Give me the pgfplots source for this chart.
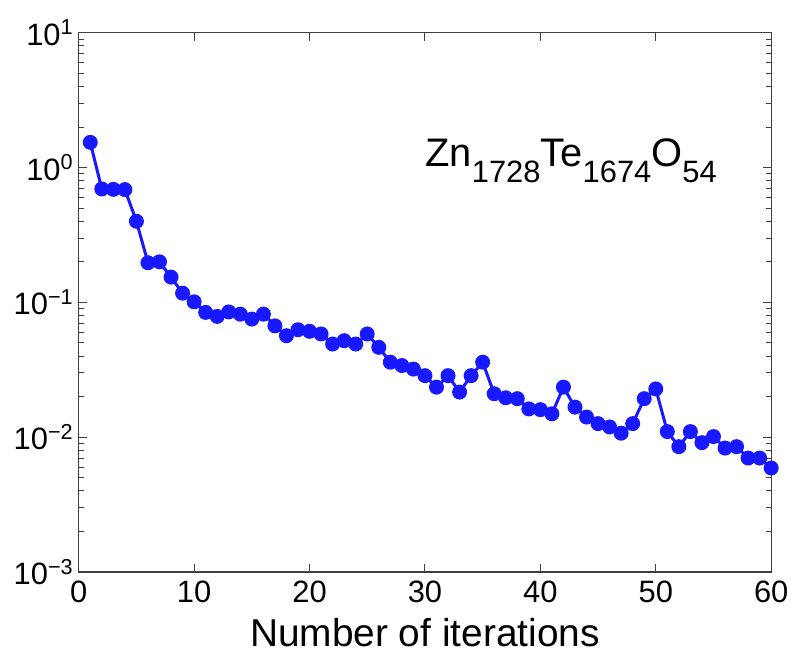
\documentclass[border=0pt]{standalone}
\usepackage{pgfplots}
\pgfplotsset{compat=1.18}
\usepackage{fontspec}
\setmainfont{Liberation Sans}

\definecolor{seriesblue}{RGB}{25,25,255}

\begin{document}
\begin{tikzpicture}
\begin{axis}[
  at={(0,0)}, anchor=south west,
  scale only axis,
  width=347.5pt, height=270.5pt,
  ymode=log,
  xmin=0, xmax=60,
  ymin=1e-3, ymax=10,
  xtick={0,10,20,30,40,50,60},
  ytick={1e-3,1e-2,1e-1,1,10},
  yticklabels={10\textsuperscript{\char"2212 3},10\textsuperscript{\char"2212 2},10\textsuperscript{\char"2212 1},10\textsuperscript{0},10\textsuperscript{1}},
  minor ytick={},
  /pgf/number format/assume math mode=true,
  tick align=inside,
  tick pos=both,
  major tick length=4pt,
  axis line style={line width=0.6pt, black!75},
  tick style={black!75, line width=0.5pt},
  tick label style={font=\fontsize{15.5}{15.5}\selectfont},
  xticklabel style={yshift=-1pt},
  yticklabel style={xshift=1pt},
  xlabel={Number of iterations},
  xlabel style={font=\fontsize{19.5}{19.5}\selectfont, yshift=-1pt},
]
\addplot[seriesblue, line width=1.5pt, mark=*, mark size=3pt,
         mark options={fill=seriesblue, draw=seriesblue}]
  coordinates {
  (1,1.54) (2,0.695) (3,0.69) (4,0.687) (5,0.40)
  (6,0.197) (7,0.20) (8,0.154) (9,0.117) (10,0.101)
  (11,0.0843) (12,0.0787) (13,0.085) (14,0.0818) (15,0.0752)
  (16,0.0818) (17,0.067) (18,0.0566) (19,0.0627) (20,0.061)
  (21,0.0583) (22,0.0491) (23,0.052) (24,0.0491) (25,0.0583)
  (26,0.0464) (27,0.036) (28,0.034) (29,0.032) (30,0.0286)
  (31,0.0235) (32,0.0286) (33,0.0216) (34,0.0286) (35,0.036)
  (36,0.021) (37,0.0196) (38,0.0193) (39,0.0162) (40,0.016)
  (41,0.0149) (42,0.0235) (43,0.0167) (44,0.0141) (45,0.0126)
  (46,0.0119) (47,0.0107) (48,0.0126) (49,0.0193) (50,0.0228)
  (51,0.011) (52,0.0085) (53,0.011) (54,0.0091) (55,0.0101)
  (56,0.0083) (57,0.0085) (58,0.007) (59,0.007) (60,0.0059)
  };
\node[anchor=base west, font=\fontsize{20}{20}\selectfont, inner sep=0pt]
  at (axis cs:30,1.02)
  {Zn\raisebox{-8pt}{\fontsize{15.5}{15.5}\selectfont 1728}Te\raisebox{-8pt}{\fontsize{15.5}{15.5}\selectfont 1674}O\raisebox{-8pt}{\fontsize{15.5}{15.5}\selectfont 54}};
\end{axis}
\path[use as bounding box] (-39.5pt,-39.5pt) rectangle (358pt,287pt);
\end{tikzpicture}
\end{document}
